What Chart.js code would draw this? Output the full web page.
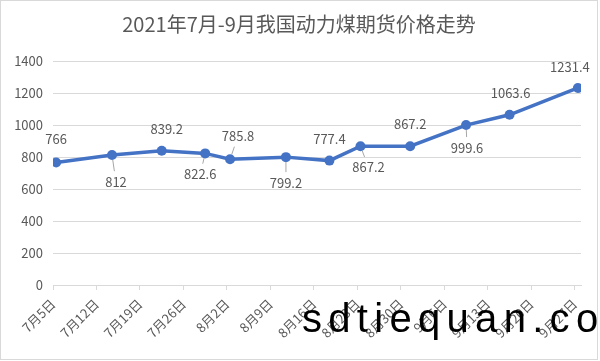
<!DOCTYPE html>
<html>
<head>
<meta charset="utf-8">
<script src="https://cdn.jsdelivr.net/npm/chart.js@4/dist/chart.umd.min.js"></script>
<style>
  html, body { margin: 0; padding: 0; background: #fff; }
  #wrap { position: relative; width: 600px; height: 361px; }
</style>
</head>
<body>
<div id="wrap"><canvas id="coalChart" width="600" height="361"></canvas></div>
<script>
// Data
const dates = ['7/5', '7/14', '7/22', '7/29', '8/2', '8/11', '8/18', '8/23', '8/31', '9/9', '9/16', '9/27'];
const prices = [766, 812, 839.2, 822.6, 785.8, 799.2, 777.4, 867.2, 867.2, 999.6, 1063.6, 1231.4];
const xTickLabels = ['7月5日', '7月12日', '7月19日', '7月26日', '8月2日', '8月9日', '8月16日',
    '8月23日', '8月30日', '9月6日', '9月13日', '9月20日', '9月27日'];
const titleText = '2021年7月-9月我国动力煤期货价格走势';

// label placement relative to each point [dx, dy, leader line]
const labelPos = [
    [0, -23, false], [4, 27, true], [5, -22, false], [-5, 21, true],
    [8, -23, true], [0, 26, true], [0, -22, false], [8, 21, true],
    [0, -22, false], [1, 23, true], [1, -22, false], [-8, -21, false]
];

const FONT = '"Noto Sans CJK SC", "Noto Sans", sans-serif';
const GREY = '#595959';
const BLUE = '#4472C4';

// days since 7/5, centred in the day slot like an Excel date axis
function dayOffset(s) {
    const [m, d] = s.split('/').map(Number);
    return (Date.UTC(2021, m - 1, d) - Date.UTC(2021, 6, 5)) / 86400000 + 0.5;
}

const points = dates.map((d, i) => ({ x: dayOffset(d), y: prices[i] }));

const decorPlugin = {
    id: 'decor',
    beforeDraw(chart) {
        const c = chart.ctx;
        c.save();
        c.strokeStyle = '#d9d9d9';
        c.lineWidth = 1;
        c.strokeRect(0.5, 0.5, 597, 359);
        c.fillStyle = GREY;
        c.font = '20px ' + FONT;
        c.textAlign = 'center';
        c.textBaseline = 'middle';
        c.fillText(titleText, 299, 24);
        c.restore();
    },
    afterDatasetsDraw(chart) {
        const c = chart.ctx;
        const meta = chart.getDatasetMeta(0);
        c.save();
        c.font = '13px ' + FONT;
        c.textAlign = 'center';
        c.textBaseline = 'middle';
        meta.data.forEach((pt, i) => {
            const [dx, dy, leader] = labelPos[i];
            if (leader) {
                const len = Math.hypot(dx, dy);
                const ux = dx / len, uy = dy / len;
                c.strokeStyle = '#a6a6a6';
                c.lineWidth = 1;
                c.beginPath();
                c.moveTo(pt.x + ux * 5, pt.y + uy * 5);
                c.lineTo(pt.x + ux * (len - 11), pt.y + uy * (len - 11));
                c.stroke();
            }
            c.fillStyle = GREY;
            c.fillText(String(prices[i]), pt.x + dx, pt.y + dy);
        });
        c.restore();
    },
    afterDraw(chart) {
        const c = chart.ctx;
        c.save();
        c.fillStyle = '#000';
        c.font = '40px "Liberation Sans", Arial, sans-serif';
        c.letterSpacing = '6.3px';
        c.textBaseline = 'alphabetic';
        c.fillText('sdtiequan.com', 302, 332);
        c.restore();
    }
};

const ctx = document.getElementById('coalChart').getContext('2d');
const coalChart = new Chart(ctx, {
    type: 'line',
    data: {
        datasets: [{
            label: '价格',
            data: points,
            borderColor: BLUE,
            backgroundColor: BLUE,
            borderWidth: 3.5,
            pointRadius: 5,
            pointBorderWidth: 0,
            pointBackgroundColor: BLUE,
            tension: 0
        }]
    },
    options: {
        responsive: false,
        animation: false,
        layout: { padding: { top: 61, right: 19, left: 0, bottom: 0 } },
        plugins: {
            legend: { display: false },
            title: { display: false },
            tooltip: { enabled: false }
        },
        scales: {
            x: {
                type: 'linear',
                min: 0,
                max: 85,
                afterFit: (scale) => { scale.height = 76; },
                ticks: {
                    stepSize: 7,
                    includeBounds: false,
                    autoSkip: false,
                    minRotation: 45,
                    maxRotation: 45,
                    padding: 6,
                    color: GREY,
                    font: { size: 13, family: FONT },
                    callback: (v) => xTickLabels[Math.round(v / 7)]
                },
                grid: { drawOnChartArea: false, drawTicks: true, tickLength: 5, color: '#d9d9d9' },
                border: { display: true, color: '#d9d9d9' }
            },
            y: {
                min: 0,
                max: 1400,
                afterFit: (scale) => { scale.width = 53; },
                ticks: {
                    stepSize: 200,
                    padding: 10,
                    color: GREY,
                    font: { size: 13, family: FONT },
                    callback: (v) => String(v)
                },
                grid: { color: '#d9d9d9', drawTicks: false },
                border: { display: false }
            }
        }
    },
    plugins: [decorPlugin]
});
</script>
</body>
</html>
